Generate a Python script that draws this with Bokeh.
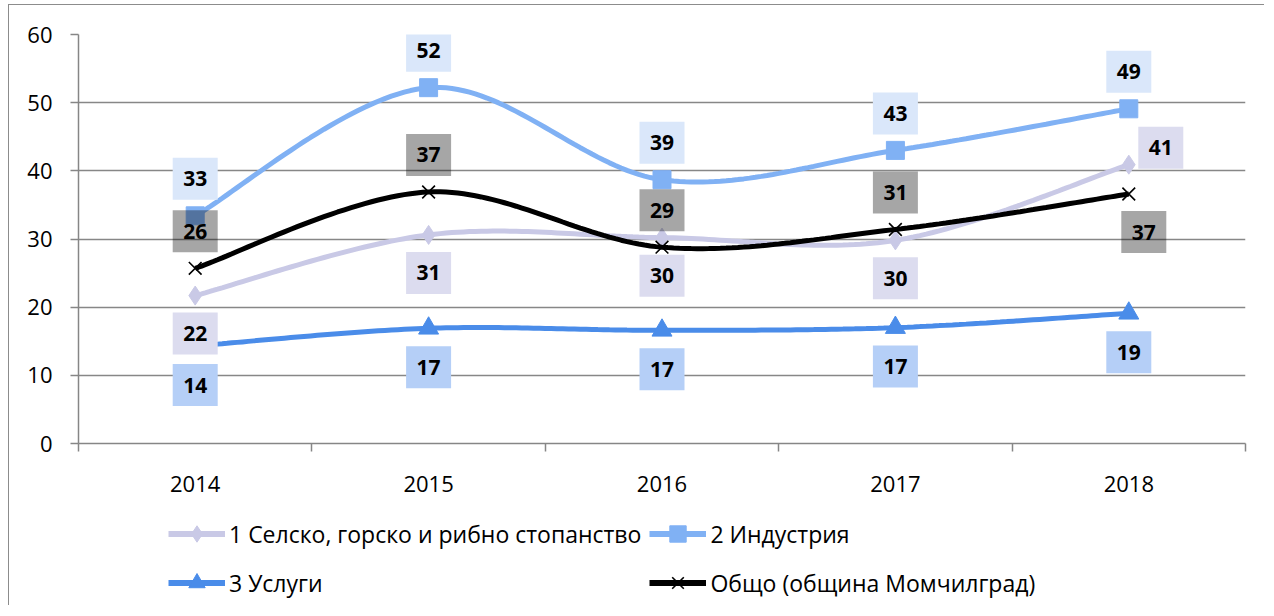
from bokeh.plotting import figure
from bokeh.layouts import column
from bokeh.models import (FixedTicker, Range1d, Legend, LegendItem, ColumnDataSource)
from bokeh.embed import file_html
from bokeh.resources import INLINE
from bokeh.core.properties import value

# ---------------- data ----------------
years = ["2014", "2015", "2016", "2017", "2018"]
agri = [21.7, 30.6, 30.2, 29.8, 40.9]        # 1 Селско, горско и рибно стопанство
industry = [33.4, 52.2, 38.7, 43.0, 49.1]    # 2 Индустрия
services = [14.3, 16.9, 16.6, 17.0, 19.1]    # 3 Услуги
total = [25.7, 36.9, 28.8, 31.4, 36.6]       # Общо (община Момчилград)
names = ["1 Селско, горско и рибно стопанство", "2 Индустрия", "3 Услуги",
         "Общо (община Момчилград)"]
y_ticks = [0, 10, 20, 30, 40, 50, 60]

# ---------------- styles ----------------
FONT = "Open Sans"
FRAME_W, FRAME_H = 1167, 409
BORDER_L, BORDER_R, BORDER_T, BORDER_B = 69, 19, 29, 60
FIG_W = FRAME_W + BORDER_L + BORDER_R
Y_MAX = 60
NCAT = len(years)
px_y = FRAME_H / Y_MAX
px_x = FRAME_W / NCAT

styles = [
    dict(color="#c9c9e6", marker="diamond", size=19, box="#dcdcef"),
    dict(color="#80b1f4", marker="square", size=18, box="#dae7fa"),
    dict(color="#4a8ce9", marker="triangle", size=20, box="#b5cff7"),
    dict(color="#000000", marker="x", size=18, box="#000000"),
]
# label offsets in screen px (dx, dy up)
offsets = [
    [(0, -38), (0, -38), (0, -38), (0, -38), (32, 17)],
    [(0, 37)] * 5,
    [(0, -39)] * 5,
    [(0, 37), (0, 37), (0, 37), (0, 37), (15, -38)],
]

xs = [i + 0.5 for i in range(NCAT)]


def smooth(x, y, n=40):
    """Cubic Bezier smoothing (Catmull-Rom style, as in spreadsheet charts)."""
    px, py = [], []
    m = len(x)
    for i in range(m - 1):
        xa, ya = x[max(i - 1, 0)], y[max(i - 1, 0)]
        x0, y0 = x[i], y[i]
        x1, y1 = x[i + 1], y[i + 1]
        xb, yb = x[min(i + 2, m - 1)], y[min(i + 2, m - 1)]
        c1x, c1y = x0 + (x1 - xa) / 6, y0 + (y1 - ya) / 6
        c2x, c2y = x1 - (xb - x0) / 6, y1 - (yb - y0) / 6
        for k in range(n + (1 if i == m - 2 else 0)):
            t = k / n
            a, b, c, d = (1 - t) ** 3, 3 * (1 - t) ** 2 * t, 3 * (1 - t) * t ** 2, t ** 3
            px.append(a * x0 + b * c1x + c * c2x + d * x1)
            py.append(a * y0 + b * c1y + c * c2y + d * y1)
    return px, py


p = figure(frame_width=FRAME_W, frame_height=FRAME_H,
           x_range=Range1d(0, NCAT), y_range=Range1d(0, Y_MAX),
           output_backend="svg", toolbar_location=None,
           min_border_left=BORDER_L, min_border_right=BORDER_R,
           min_border_top=BORDER_T, min_border_bottom=BORDER_B)
p.outline_line_color = None
p.background_fill_color = "white"

# axes
p.yaxis.ticker = FixedTicker(ticks=y_ticks, minor_ticks=[])
p.yaxis.axis_line_color = "#868686"
p.yaxis.axis_line_width = 1.5
p.yaxis.major_tick_line_color = "#868686"
p.yaxis.major_tick_line_width = 1.5
p.yaxis.major_tick_out = 8
p.yaxis.major_tick_in = 0
p.yaxis.major_label_standoff = 18
p.yaxis.major_label_text_font = FONT
p.yaxis.major_label_text_font_size = "22px"
p.yaxis.major_label_text_color = "#000000"

p.xaxis.ticker = FixedTicker(ticks=xs, minor_ticks=list(range(NCAT + 1)))
p.xaxis.major_label_overrides = {x: yr for x, yr in zip(xs, years)}
p.xaxis.axis_line_color = "#868686"
p.xaxis.axis_line_width = 1.5
p.xaxis.major_tick_line_color = None
p.xaxis.major_tick_out = 0
p.xaxis.major_tick_in = 0
p.xaxis.minor_tick_line_color = "#868686"
p.xaxis.minor_tick_line_width = 1.5
p.xaxis.minor_tick_out = 8
p.xaxis.minor_tick_in = 0
p.xaxis.major_label_standoff = 24
p.xaxis.major_label_text_font = FONT
p.xaxis.major_label_text_font_size = "22px"
p.xaxis.major_label_text_color = "#000000"

p.xgrid.grid_line_color = None
p.ygrid.ticker = FixedTicker(ticks=y_ticks)
p.ygrid.grid_line_color = "#878787"
p.ygrid.grid_line_width = 1.5

# legend figure (below the chart); its ranges keep the proxy glyphs out of view
lf = figure(width=FIG_W, height=102, x_range=Range1d(0, 1), y_range=Range1d(-200, -199),
            x_axis_type=None, y_axis_type=None, output_backend="svg",
            toolbar_location=None, min_border=0)
lf.outline_line_color = None
lf.xgrid.grid_line_color = None
lf.ygrid.grid_line_color = None

series = [agri, industry, services, total]
items = []
for vals, st, name in zip(series, styles, names):
    sx, sy = smooth(xs, vals)
    p.line(sx, sy, line_color=st["color"], line_width=5)
    if st["marker"] == "x":
        mkw = dict(marker="x", size=st["size"], line_color="black", line_width=1.6)
    else:
        mkw = dict(marker=st["marker"], size=st["size"], fill_color=st["color"],
                   line_color=st["color"])
    p.scatter(xs, vals, **mkw)
    lr = lf.line(xs, vals, line_color=st["color"], line_width=6)
    mr = lf.scatter(xs, vals, **mkw)
    items.append(LegendItem(label=name, renderers=[lr, mr]))

# data labels
for vals, st, offs in zip(series, styles, offsets):
    bx = [x + dx / px_x for x, (dx, dy) in zip(xs, offs)]
    by = [v + dy / px_y for v, (dx, dy) in zip(vals, offs)]
    src = ColumnDataSource(dict(x=bx, y=by, t=[f"{v:.0f}" for v in vals]))
    alpha = 0.35 if st["marker"] == "x" else 1.0
    p.rect("x", "y", width=45, height=42, width_units="screen", height_units="screen",
           source=src, fill_color=st["box"], fill_alpha=alpha, line_color=None)
    p.text("x", "y", text="t", source=src, text_align="center", text_baseline="middle",
           text_font=value(FONT), text_font_style="bold", text_font_size="21px",
           text_color="black")

legend = Legend(items=items, ncols=2, location=(90, 2), orientation="horizontal")
legend.label_text_font = FONT
legend.label_text_font_size = "23px"
legend.label_text_color = "#000000"
legend.glyph_width = 57
legend.glyph_height = 41
legend.label_height = 41
legend.label_standoff = 4
legend.spacing = 8
legend.padding = 0
legend.margin = 0
legend.border_line_color = None
legend.background_fill_alpha = 0
lf.add_layout(legend, "center")

layout = column(p, lf, spacing=0,
                styles={"border-left": "1px solid #8c8c8c",
                        "border-top": "1px solid #8c8c8c",
                        "margin-left": "8px", "margin-top": "4px"})

open("out.html", "w").write(file_html(layout, INLINE))
